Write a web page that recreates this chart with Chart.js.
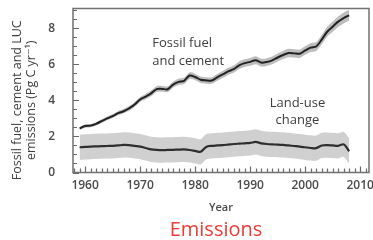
<!DOCTYPE html>
<html>
<head>
<meta charset="utf-8">
<script src="https://cdn.jsdelivr.net/npm/chart.js@4"></script>
<style>
  html, body { margin: 0; padding: 0; background: #fff; }
  #wrap { position: relative; width: 373px; height: 240px; overflow: hidden; }
  #caption {
    position: absolute; top: 216px; left: 216px; transform: translateX(-50%);
    font: 20px "Open Sans", sans-serif; color: #ee3b33; line-height: 26px; white-space: nowrap;
  }
</style>
</head>
<body>
<div id="wrap">
  <canvas id="chart" width="373" height="240"></canvas>
  <div id="caption">Emissions</div>
</div>
<script>
/* ── Data ──────────────────────────────────────────────────────────────── */

var YEARS = [
  1959, 1960, 1961, 1962, 1963, 1964, 1965, 1966, 1967, 1968,
  1969, 1970, 1971, 1972, 1973, 1974, 1975, 1976, 1977, 1978,
  1979, 1980, 1981, 1982, 1983, 1984, 1985, 1986, 1987, 1988,
  1989, 1990, 1991, 1992, 1993, 1994, 1995, 1996, 1997, 1998,
  1999, 2000, 2001, 2002, 2003, 2004, 2005, 2006, 2007, 2008
];

// Pg C per year
var FOSSIL = [
  2.45, 2.58, 2.60, 2.70, 2.85, 3.00, 3.13, 3.29, 3.40, 3.56,
  3.77, 4.05, 4.21, 4.39, 4.63, 4.64, 4.62, 4.88, 5.03, 5.09,
  5.38, 5.30, 5.15, 5.11, 5.10, 5.28, 5.44, 5.61, 5.73, 5.95,
  6.07, 6.14, 6.23, 6.10, 6.13, 6.22, 6.38, 6.52, 6.63, 6.61,
  6.59, 6.77, 6.93, 6.99, 7.37, 7.81, 8.09, 8.37, 8.57, 8.72
];

var LAND_USE = [
  1.40, 1.42, 1.44, 1.45, 1.46, 1.47, 1.48, 1.50, 1.53, 1.52,
  1.48, 1.44, 1.36, 1.28, 1.25, 1.24, 1.25, 1.26, 1.27, 1.28,
  1.25, 1.20, 1.15, 1.42, 1.48, 1.50, 1.52, 1.55, 1.58, 1.60,
  1.62, 1.64, 1.70, 1.62, 1.58, 1.56, 1.55, 1.53, 1.50, 1.47,
  1.44, 1.40, 1.36, 1.35, 1.50, 1.52, 1.50, 1.48, 1.56, 1.18
];

var FOSSIL_UNC   = 0.035;  // relative half-width of the fossil band
var LAND_USE_UNC = 0.7;    // absolute half-width of the land-use band

var X_TICKS = [1960, 1970, 1980, 1990, 2000, 2010];
var Y_TICKS = [0, 2, 4, 6, 8];

/* ── Helpers ───────────────────────────────────────────────────────────── */

function pts(values) {
  return YEARS.map(function (yr, i) { return { x: yr, y: values[i] }; });
}

var fossilHi = FOSSIL.map(function (v) { return v * (1 + FOSSIL_UNC); });
var fossilLo = FOSSIL.map(function (v) { return v * (1 - FOSSIL_UNC); });
var luHi     = LAND_USE.map(function (v) { return v + LAND_USE_UNC; });
var luLo     = LAND_USE.map(function (v) { return v - LAND_USE_UNC; });

var FONT = '"Open Sans", "DejaVu Sans", sans-serif';
var INK  = '#3d3d3d';

/* ── Plugin: frame + inward tick marks ─────────────────────────────────── */

var frameTicks = {
  id: 'frameTicks',
  afterDatasetsDraw: function (chart) {
    var ctx = chart.ctx, a = chart.chartArea;
    var xs = chart.scales.x, ys = chart.scales.y;
    ctx.save();
    ctx.strokeStyle = '#6a6a6a';
    ctx.lineWidth = 1.2;
    ctx.beginPath();
    for (var yr = 1958; yr <= 2011; yr++) {
      var px = Math.round(xs.getPixelForValue(yr)) + 0.5;
      var len = yr % 10 === 0 ? 6 : 4;
      ctx.moveTo(px, a.bottom);
      ctx.lineTo(px, a.bottom - len);
    }
    for (var v = 0; v <= 9; v += 0.5) {
      var py = Math.round(ys.getPixelForValue(v)) + 0.5;
      var l2 = v % 2 === 0 ? 6 : 4;
      ctx.moveTo(a.left, py);
      ctx.lineTo(a.left + l2, py);
    }
    ctx.stroke();
    ctx.lineWidth = 1.5;
    ctx.strokeStyle = '#707070';
    ctx.strokeRect(a.left, a.top, a.right - a.left, a.bottom - a.top);
    ctx.restore();
  }
};

/* ── Plugin: in-plot series labels ─────────────────────────────────────── */

var seriesLabels = {
  id: 'seriesLabels',
  afterDatasetsDraw: function (chart) {
    var ctx = chart.ctx;
    var xs = chart.scales.x, ys = chart.scales.y;
    ctx.save();
    ctx.fillStyle = INK;
    ctx.font = '13px ' + FONT;
    ctx.textBaseline = 'middle';
    ctx.textAlign = 'left';
    ctx.fillText('Fossil fuel', xs.getPixelForValue(1972.2), ys.getPixelForValue(7.18));
    ctx.fillText('and cement', xs.getPixelForValue(1972.2), ys.getPixelForValue(6.16));
    ctx.textAlign = 'center';
    ctx.fillText('Land-use', xs.getPixelForValue(1998.6), ys.getPixelForValue(3.84));
    ctx.fillText('change', xs.getPixelForValue(1998.6), ys.getPixelForValue(2.92));
    ctx.restore();
  }
};

/* ── Chart ─────────────────────────────────────────────────────────────── */

new Chart(document.getElementById('chart'), {
  type: 'line',
  data: {
    datasets: [
      { data: pts(luLo),     borderWidth: 0, pointRadius: 0, fill: false, order: 6, tension: 0.3 },
      { data: pts(luHi),     borderWidth: 0, pointRadius: 0, fill: '-1', backgroundColor: '#d0d0d0', order: 5, tension: 0.3 },
      { data: pts(fossilLo), borderWidth: 0, pointRadius: 0, fill: false, order: 4, tension: 0.3 },
      { data: pts(fossilHi), borderWidth: 0, pointRadius: 0, fill: '-1', backgroundColor: '#bdbdbd', order: 3, tension: 0.3 },
      { data: pts(LAND_USE), borderColor: '#2e2e2e', borderWidth: 2.2, pointRadius: 0, fill: false, order: 2, tension: 0.3 },
      { data: pts(FOSSIL),   borderColor: '#222222', borderWidth: 2, pointRadius: 0, fill: false, order: 1, tension: 0.3 }
    ]
  },
  options: {
    responsive: false,
    animation: false,
    devicePixelRatio: 1,
    layout: { padding: { top: 8.5, right: 4, bottom: 22, left: 0 } },
    plugins: { legend: { display: false }, tooltip: { enabled: false } },
    scales: {
      x: {
        type: 'linear',
        min: 1957.8,
        max: 2011.6,
        grid: { display: false },
        border: { display: false },
        afterBuildTicks: function (s) { s.ticks = X_TICKS.map(function (v) { return { value: v }; }); },
        afterFit: function (s) { s.height = 45.5; s.paddingLeft = 0; s.paddingRight = 0; },
        ticks: {
          maxRotation: 0,
          autoSkip: false,
          padding: -2,
          color: '#4a4a4a',
          font: { family: FONT, size: 12, weight: '600' },
          callback: function (v) { return String(v); }
        },
        title: {
          display: true,
          text: 'Year',
          color: '#4a4a4a',
          padding: { top: 0, bottom: 3.5 },
          font: { family: FONT, size: 11, weight: '600' }
        }
      },
      y: {
        min: 0,
        max: 9.1,
        grid: { display: false },
        border: { display: false },
        afterBuildTicks: function (s) { s.ticks = Y_TICKS.map(function (v) { return { value: v }; }); },
        afterFit: function (s) { s.width = 73; s.paddingTop = 0; s.paddingBottom = 0; },
        ticks: {
          padding: 10,
          color: '#4a4a4a',
          font: { family: FONT, size: 12, weight: '600' }
        },
        title: {
          display: true,
          text: ['Fossil fuel, cement and LUC      ', 'emissions (Pg C yr\u207B\u00B9)      '],
          color: INK,
          padding: { top: 10.5, bottom: 0 },
          font: { family: FONT, size: 12.5, lineHeight: 1.12 }
        }
      }
    }
  },
  plugins: [frameTicks, seriesLabels]
});
</script>
</body>
</html>
